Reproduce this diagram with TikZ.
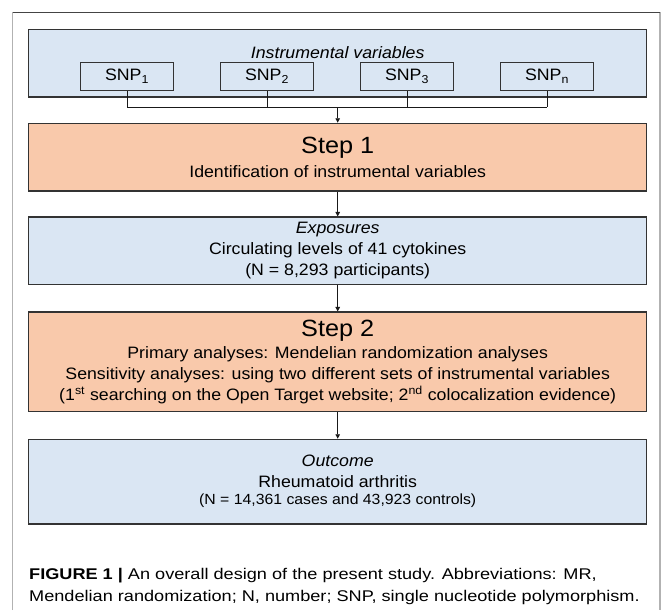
\documentclass[tikz,border=0pt]{standalone}
\usepackage{fontspec}
\setmainfont{Liberation Sans}[FakeStretch=1.075]
\newfontfamily\capfont{Liberation Sans}[FakeStretch=1.17]
\usepackage{xcolor}
\usetikzlibrary{arrows.meta, calc}
\definecolor{ivblue}{HTML}{DAE6F3}
\definecolor{steporange}{HTML}{F9C9AB}
\definecolor{frameline}{HTML}{444444}
\newcommand{\boxfont}{\fontsize{16.5}{21}\selectfont}
\newcommand{\stepfont}{\fontsize{23.5}{28}\selectfont}

\begin{document}
\begin{tikzpicture}[x=1pt, y=-1pt, >={Triangle[length=4.5pt, width=4.5pt]},
  every node/.style={font=\boxfont, inner sep=0pt},
  bluebox/.style={draw=black!80, line width=1.1pt, fill=ivblue, minimum width=618pt, align=center},
  orangebox/.style={draw=black!80, line width=1.1pt, fill=steporange, minimum width=618pt, align=center},
  snpbox/.style={draw=black!80, line width=1pt, fill=ivblue, minimum width=93pt, minimum height=28.4pt},
  link/.style={line width=0.9pt, black!90}]
  \useasboundingbox (0,0) rectangle (663,610);
  \draw[black!30, line width=1.5pt] (12.5,610) -- (12.5,12.5);
  \draw[black!30, line width=1.5pt] (660,12.5) -- (660,610);
  \draw[frameline, line width=0.8pt] (12.5,12.5) -- (660,12.5);

  \node[bluebox, minimum height=67.3pt] (IV) at (337.7,63.35) {};
  \node[font=\boxfont\itshape, anchor=base] (ivtitle) at (337.7,59) {Instrumental variables};
  \foreach \k/\xx in {1/127, 2/267, 3/407, n/547}
    \node[snpbox] (SNP\k) at (\xx,76.5) {SNP\textsubscript{\k}};

  \coordinate (bus) at (337.7,107);
  \foreach \k in {1,2,3,n}
    \draw[link] (SNP\k.south) -- (SNP\k.south |- bus);
  \draw[link] (SNP1.south |- bus) -- (SNPn.south |- bus);

  \node[orangebox, minimum height=67.7pt] (S1) at (337.7,157.15) {{\stepfont Step 1}\\[3pt] Identification of instrumental variables};
  \node[bluebox, minimum height=67.3pt] (EXP) at (337.7,250.65) {\textit{Exposures}\\ Circulating levels of 41 cytokines\\ (N = 8,293 participants)};
  \node[orangebox, minimum height=99.7pt] (S2) at (337.7,361.85) {{\stepfont Step 2}\\[1.5pt] Primary analyses: Mendelian randomization analyses\\ Sensitivity analyses: using two different sets of instrumental variables\\ (1\textsuperscript{st} searching on the Open Target website; 2\textsuperscript{nd} colocalization evidence)};
  \node[bluebox, minimum height=84.7pt] (OUT) at (337.7,481.65) {\textit{Outcome}\\ Rheumatoid arthritis\\[-4pt] {\fontsize{14.7}{17}\selectfont (N = 14,361 cases and 43,923 controls)}};

  \draw[link, ->] (bus) -- (bus |- S1.north);
  \draw[link, ->] (S1) -- (EXP);
  \draw[link, ->] (EXP) -- (S2);
  \draw[link, ->] (S2) -- (OUT);

  \node[font=\capfont\fontsize{15.5}{22}\selectfont, align=left, anchor=base west] (CAP) at (29,601.5) {\textbf{FIGURE 1 |} An overall design of the present study. Abbreviations: MR,\\ Mendelian randomization; N, number; SNP, single nucleotide polymorphism.};
\end{tikzpicture}
\end{document}
